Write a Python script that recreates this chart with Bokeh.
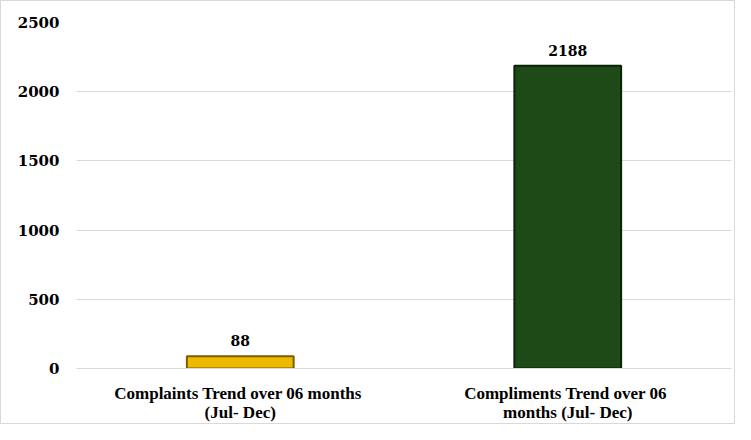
from bokeh.plotting import figure
from bokeh.models import ColumnDataSource, Range1d, FixedTicker
from bokeh.embed import file_html
from bokeh.resources import INLINE
from bokeh.core.properties import value

cat_labels = ["Complaints  Trend over 06 months\n(Jul- Dec)",
              "Compliments  Trend over 06\nmonths (Jul- Dec)"]
values = [88, 2188]
bar_colors = ["#EDBA00", "#1D4A17"]
edge_colors = ["#7a5e00", "#0a2207"]
y_ticks = [0, 500, 1000, 1500, 2000, 2500]

NUM_FONT = "DejaVu Serif"
CAT_FONT = "Liberation Serif"

src = ColumnDataSource(dict(x=cat_labels, top=values, color=bar_colors,
                            edge=edge_colors, label=[str(v) for v in values]))

p = figure(width=735, height=424, x_range=cat_labels, y_range=Range1d(0, 2500),
           output_backend="svg", toolbar_location=None,
           min_border_left=75, min_border_right=5, min_border_top=21, min_border_bottom=55)
p.styles = {"border": "1px solid #d9d9d9"}

p.vbar(x="x", top="top", width=0.326, fill_color="color", line_color="edge",
       line_width=2, source=src)
p.text(x="x", y="top", text="label", source=src, text_align="center",
       text_baseline="bottom", y_offset=-10, text_font=value(NUM_FONT),
       text_font_style="bold", text_font_size="14px", text_color="#000000")

p.outline_line_color = None
p.xgrid.grid_line_color = None
p.ygrid.grid_line_color = "#d9d9d9"
p.ygrid.grid_line_width = 1
p.yaxis.ticker = FixedTicker(ticks=y_ticks)
p.yaxis.axis_line_color = None
p.yaxis.major_tick_line_color = None
p.yaxis.minor_tick_line_color = None
p.yaxis.major_label_text_font = NUM_FONT
p.yaxis.major_label_text_font_style = "bold"
p.yaxis.major_label_text_font_size = "15px"
p.yaxis.major_label_text_color = "#000000"
p.yaxis.major_label_standoff = 11

p.xaxis.axis_line_color = "#d9d9d9"
p.xaxis.major_tick_line_color = None
p.xaxis.minor_tick_line_color = None
p.xaxis.major_label_text_font = CAT_FONT
p.xaxis.major_label_text_font_style = "bold"
p.xaxis.major_label_text_font_size = "17px"
p.xaxis.major_label_text_color = "#000000"
p.xaxis.major_label_standoff = 9
p.xaxis.major_label_text_line_height = 1.05

open("out.html", "w").write(file_html(p, INLINE))
